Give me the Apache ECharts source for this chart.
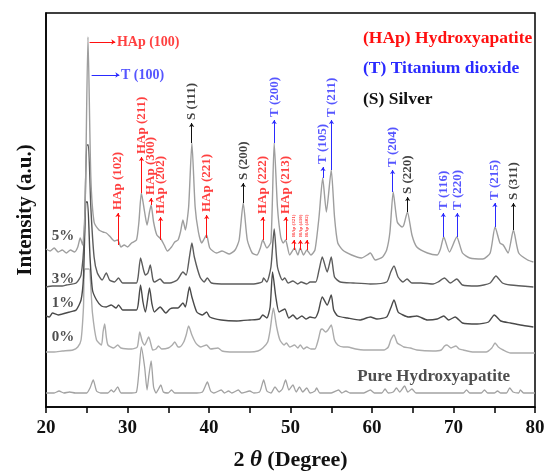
<!DOCTYPE html>
<html><head><meta charset="utf-8">
<script src="https://cdn.jsdelivr.net/npm/echarts@6/dist/echarts.min.js"></script>
<style>html,body{margin:0;padding:0;background:#fff}#c{width:547px;height:471px}</style>
</head><body><div id="c"></div>
<script>
// ---------- data (2θ in degrees, intensity in arbitrary units) ----------
const xTicks = [20, 30, 40, 50, 60, 70, 80];

const pureHAp = [[20.0,14],[21.0,14],[21.6,16],[22.2,14],[22.9,15],[23.6,14],[25.0,14],[25.4,19],[25.8,27],[26.2,16],[26.7,14],[27.6,14],[28.0,17],[28.3,15],[28.8,20],[29.2,14],[30.5,14],[31.1,15],[31.4,35],[31.7,60],[32.1,40],[32.4,17],[32.6,30],[32.9,46],[33.2,20],[33.5,14],[33.8,18],[34.1,22],[34.4,15],[35.0,14],[35.4,17],[35.8,14],[38.5,14],[39.2,15],[39.5,20],[39.8,25],[40.2,16],[40.6,14],[41.5,17],[41.9,14],[42.4,16],[42.8,14],[43.6,17],[44.0,14],[45.0,16],[45.5,14],[46.2,15],[46.4,19],[46.7,27],[47.1,16],[47.6,14],[48.1,20],[48.6,15],[49.0,18],[49.4,27],[49.8,17],[50.3,22],[50.7,15],[51.1,20],[51.5,15],[52.0,19],[52.4,14],[53.0,16],[53.2,19],[53.6,14],[55.0,14],[55.9,17],[56.3,14],[56.8,16],[57.3,14],[59.0,14],[59.8,17],[60.3,14],[61.2,14],[61.6,18],[62.0,14],[62.6,15],[63.0,19],[63.4,15],[64.0,21],[64.4,15],[64.9,18],[65.4,14],[67.0,14],[71.2,14],[71.6,17],[72.0,14],[73.4,14],[73.8,17],[74.2,14],[75.0,14],[75.4,16],[75.8,14],[76.5,14],[76.9,19],[77.3,15],[78.0,14],[78.2,17],[78.6,14],[80.0,14]];

const pct0 = [[20.0,55],[21.0,55],[22.0,56],[23.3,57],[23.9,60],[24.3,67],[24.6,100],[24.75,138],[25.3,138],[25.5,120],[25.7,94],[26.2,67],[26.8,62],[27.0,75],[27.2,83],[27.4,70],[27.6,62],[28.3,59],[28.8,62],[29.2,59],[30.5,58],[31.2,60],[31.5,75],[31.8,66],[32.1,62],[32.6,70],[32.9,62],[33.1,57],[33.5,58],[33.8,61],[34.2,58],[35.0,59],[35.5,62],[35.8,65],[36.2,60],[36.4,60],[36.9,65],[37.2,72],[37.5,81],[37.9,72],[38.3,65],[38.6,62],[39.0,60],[39.7,62],[40.2,58],[41.1,59],[41.6,56],[43.0,55],[45.0,55],[46.0,56],[46.6,59],[47.2,65],[47.5,77],[47.9,99],[48.3,80],[48.7,67],[49.2,62],[49.5,64],[49.9,60],[50.5,62],[50.9,59],[51.2,62],[51.6,58],[52.0,60],[52.5,58],[53.0,58],[53.4,67],[53.7,77],[53.9,78],[54.3,75],[54.6,77],[55.0,82],[55.4,67],[55.8,62],[56.5,60],[57.0,60],[58.0,58],[59.0,57],[60.5,57],[61.5,57],[62.0,60],[62.3,67],[62.7,72],[63.1,64],[63.5,62],[63.9,60],[64.7,59],[65.5,57],[67.5,56],[68.5,57],[68.9,61],[69.2,62],[69.7,59],[70.3,61],[70.7,58],[71.2,57],[72.5,55],[74.0,55],[74.7,59],[75.1,64],[75.5,60],[76.1,57],[77.0,54],[80.0,54]];

const pct1 = [[20.0,91],[20.4,90],[20.8,94],[21.5,92],[22.0,93],[22.9,95],[23.7,97],[24.3,107],[24.6,130],[24.9,205],[25.1,205],[25.4,150],[25.7,117],[26.2,107],[26.8,101],[27.4,100],[28.0,102],[28.6,99],[28.9,102],[29.4,97],[30.5,97],[31.1,97],[31.3,102],[31.6,122],[31.9,105],[32.2,95],[32.7,119],[33.0,103],[33.3,95],[34.0,100],[34.7,94],[35.2,98],[35.6,99],[36.2,99],[36.8,104],[37.1,100],[37.6,120],[37.9,110],[38.5,95],[39.2,92],[39.7,95],[40.1,90],[41.5,87],[43.4,86],[45.0,87],[46.2,88],[46.6,92],[47.1,89],[47.5,100],[47.8,135],[48.2,110],[48.6,95],[49.3,98],[49.8,89],[50.3,92],[50.8,88],[51.4,91],[51.9,88],[52.4,90],[53.0,89],[53.4,95],[53.9,110],[54.5,102],[55.0,112],[55.3,97],[55.8,91],[57.0,89],[58.5,87],[59.8,90],[60.6,88],[61.8,90],[62.3,99],[62.7,107],[63.2,95],[63.8,92],[64.5,90],[65.5,91],[66.8,87],[68.0,88],[68.8,91],[69.4,87],[70.2,90],[71.1,84],[72.9,83],[74.3,85],[75.0,92],[75.8,86],[77.0,84],[78.2,82],[79.8,80]];

const pct3 = [[20.0,120],[20.8,121],[22.0,121],[22.5,122],[23.7,124],[24.3,132],[24.7,170],[25.0,262],[25.2,262],[25.5,200],[25.9,150],[26.3,134],[26.9,127],[27.4,134],[27.8,127],[28.4,125],[28.9,129],[29.4,124],[30.5,124],[31.1,124],[31.3,130],[31.6,149],[32.0,136],[32.2,132],[32.5,134],[32.8,142],[33.1,128],[33.3,125],[34.0,128],[34.5,124],[35.2,124],[36.1,127],[36.8,135],[37.2,132],[37.6,150],[37.9,164],[38.2,150],[38.9,130],[39.4,125],[39.8,129],[40.3,124],[42.2,123],[43.0,123],[45.5,123],[46.5,125],[46.7,129],[47.1,125],[47.6,140],[48.0,178],[48.4,140],[49.0,127],[49.3,129],[49.7,124],[50.3,126],[50.9,123],[51.3,125],[52.0,123],[52.4,125],[53.1,125],[53.5,137],[53.9,150],[54.5,135],[55.0,150],[55.4,130],[56.1,125],[57.7,124],[59.8,123],[61.8,125],[62.3,135],[62.7,141],[63.2,130],[63.8,125],[64.3,128],[64.9,124],[66.0,124],[67.5,123],[68.1,125],[68.9,129],[69.6,124],[70.4,128],[71.1,122],[72.9,121],[74.5,124],[75.2,131],[76.0,124],[77.0,122],[79.8,120]];

const pct5 = [[20.0,158],[20.5,156],[21.0,159],[21.5,155],[22.0,157],[22.5,154],[23.0,157],[23.5,155],[23.9,160],[24.2,169],[24.5,162],[24.8,200],[25.15,370],[25.5,230],[25.9,185],[26.5,177],[27.0,175],[27.4,174],[27.8,171],[28.4,166],[28.8,167],[29.2,160],[29.6,162],[30.0,160],[30.5,164],[31.1,167],[31.4,185],[31.7,214],[32.1,195],[32.4,182],[32.7,195],[32.9,202],[33.2,185],[33.6,172],[34.1,168],[34.5,162],[34.9,156],[35.4,160],[35.8,165],[36.2,167],[36.5,175],[36.8,187],[37.1,177],[37.5,200],[37.9,264],[38.3,200],[38.7,175],[39.1,164],[39.4,168],[39.7,172],[40.1,159],[40.9,154],[41.6,156],[42.5,153],[43.2,157],[43.7,167],[44.2,204],[44.7,167],[45.3,154],[45.9,152],[46.3,159],[46.6,167],[47.1,159],[47.6,165],[48.0,264],[48.4,200],[48.8,170],[49.1,164],[49.4,167],[49.9,152],[50.5,159],[50.9,152],[51.2,159],[51.6,152],[52.0,157],[52.5,152],[53.0,157],[53.5,190],[53.95,229],[54.4,195],[55.0,237],[55.4,190],[55.8,164],[56.4,157],[57.5,152],[58.7,149],[59.4,152],[59.8,154],[60.4,147],[61.3,150],[61.8,157],[62.2,175],[62.6,215],[63.1,185],[63.7,180],[63.9,182],[64.35,195],[64.9,172],[65.5,160],[66.8,154],[68.0,152],[68.4,158],[68.8,170],[69.5,155],[70.4,170],[71.1,154],[72.0,149],[73.6,148],[74.5,154],[75.1,180],[75.7,164],[76.1,162],[76.7,154],[77.35,177],[78.0,154],[79.1,147],[79.8,145]];

// peak annotations: position, arrow start (peak), arrow tip, label, phase
const annX     = [28.83, 31.72, 32.89, 34.06, 37.87, 39.72, 44.2, 46.6, 48.0, 49.43, 50.42, 51.22, 52.02, 53.99, 55.03, 62.53, 64.38, 68.75, 70.47, 75.08, 77.36];
const annPeak  = [162, 214, 202, 167, 264, 169, 204, 167, 264, 167, 157, 157, 157, 229, 237, 215, 195, 170, 170, 180, 177];
const annTip   = [194, 250, 209, 190, 284, 192, 224, 190, 287, 190, 167, 167, 167, 240, 287, 237, 210, 194, 194, 204, 204];
const annLabel = ['HAp (102)','HAp (211)','HAp (300)','HAp (202)','S (111)','HAp (221)','S (200)','HAp (222)','T (200)','HAp (213)','HAp (321)','HAp (410)','HAp (402)','T (105)','T (211)','T (204)','S (220)','T (116)','T (220)','T (215)','S (311)'];
const annPhase = ['H','H','H','H','S','H','S','H','T','H','H','H','H','T','T','T','S','T','T','T','S'];
const annSmall = [0,0,0,0,0,0,0,0,0,0,1,1,1,0,0,0,0,0,0,0,0];

// horizontal annotations of the main peak
const hX0 = [25.35, 25.6], hX1 = [28.5, 29.0], hY = [365, 332], hLabel = ['HAp (100)', 'T (100)'], hPhase = ['H', 'T'];

// sample labels
const sampleLabel = ['5%', '3%', '1%', '0%', 'Pure Hydroxyapatite'];
const sampleX = [20.7, 20.7, 20.7, 20.7, 58.2];
const sampleY = [171, 128, 104, 70, 30];

const legendText = ['(HAp) Hydroxyapatite', '(T) Titanium dioxide', '(S) Silver'];

// ---------- chart ----------
const SERIF = "'Liberation Serif','DejaVu Serif',serif";
const phaseColor = {H: '#ff1010', T: '#2a2aff', S: '#111111'};

const arrowData = annX.map((x, i) => [
  {coord: [x, annPeak[i]], lineStyle: {color: phaseColor[annPhase[i]], width: 1, type: 'solid'}, itemStyle: {color: phaseColor[annPhase[i]]}},
  {coord: [x, annTip[i]], itemStyle: {color: phaseColor[annPhase[i]]}}
]).concat(hX0.map((x, i) => [
  {coord: [x, hY[i]], lineStyle: {color: phaseColor[hPhase[i]], width: 1, type: 'solid'}, itemStyle: {color: phaseColor[hPhase[i]]}},
  {coord: [hX1[i], hY[i]], itemStyle: {color: phaseColor[hPhase[i]]}}
]));

const annTextData = annX.map((x, i) => ({
  value: [x, annTip[i] + 3],
  label: {formatter: annLabel[i], color: phaseColor[annPhase[i]], fontSize: annSmall[i] ? 5 : 13}
}));
const hTextData = hX1.map((x, i) => ({
  value: [x + 0.2, hY[i]],
  label: {formatter: hLabel[i], color: phaseColor[hPhase[i]], fontSize: 14, rotate: 0}
}));
const sampleData = sampleLabel.map((s, i) => ({value: [sampleX[i], sampleY[i]], label: {formatter: s, fontSize: i === 4 ? 17 : 15}}));

function curve(name, data, color, w) {
  return {type: 'line', name, data, symbol: 'none', smooth: 0.2, lineStyle: {color, width: w}, z: 3, silent: true};
}

const chart = echarts.init(document.getElementById('c'), null, {renderer: 'canvas'});
chart.setOption({
  animation: false,
  backgroundColor: '#fff',
  grid: {left: 46, right: 12, top: 13, bottom: 64, show: true, borderColor: '#000', borderWidth: 1.5,
    backgroundColor: 'transparent', containLabel: false, outerBoundsMode: 'none'},
  xAxis: {
    type: 'value', min: 20, max: 80, interval: 10,
    axisLine: {show: true, lineStyle: {color: '#000', width: 1.5}},
    axisTick: {show: true, inside: false, length: 6, lineStyle: {color: '#000', width: 1.5}},
    minorTick: {show: true, splitNumber: 2, length: 6, lineStyle: {color: '#000', width: 1.5}},
    splitLine: {show: false},
    axisLabel: {color: '#111', fontFamily: SERIF, fontWeight: 'bold', fontSize: 19, margin: 12,
      formatter: v => xTicks.includes(v) ? String(v) : ''},
    name: '{a|2 }{b|θ}{a| (Degree)}', nameLocation: 'middle', nameGap: 42,
    nameTextStyle: {rich: {
      a: {fontFamily: SERIF, fontWeight: 'bold', fontSize: 22, color: '#111'},
      b: {fontFamily: SERIF, fontWeight: 'bold', fontStyle: 'italic', fontSize: 23, color: '#111'}
    }}
  },
  yAxis: {
    type: 'value', min: 0, max: 394,
    axisLine: {show: true, lineStyle: {color: '#000', width: 1.5}},
    axisTick: {show: false}, axisLabel: {show: false}, splitLine: {show: false},
    name: 'Intensity (a.u.)', nameLocation: 'middle', nameGap: 10,
    nameTextStyle: {fontFamily: SERIF, fontWeight: 'bold', fontSize: 21, color: '#111'}
  },
  series: [
    curve('Pure', pureHAp, '#a2a2a2', 1.3),
    curve('0%', pct0, '#acacac', 1.4),
    curve('1%', pct1, '#4a4a4a', 1.4),
    curve('3%', pct3, '#5c5c5c', 1.4),
    curve('5%', pct5, '#9e9e9e', 1.4),
    {
      type: 'scatter', data: [], silent: true, z: 4,
      markLine: {silent: true, animation: false, symbol: ['none', 'arrow'], symbolSize: 4,
        label: {show: false}, emphasis: {disabled: true}, data: arrowData}
    },
    {
      type: 'scatter', symbolSize: 0, silent: true, z: 5, data: annTextData,
      label: {show: true, position: 'inside', rotate: 90, align: 'left', verticalAlign: 'middle',
        fontFamily: SERIF, fontWeight: 'bold'}
    },
    {
      type: 'scatter', symbolSize: 0, silent: true, z: 5, data: hTextData,
      label: {show: true, position: 'inside', align: 'left', verticalAlign: 'middle',
        fontFamily: SERIF, fontWeight: 'bold'}
    },
    {
      type: 'scatter', symbolSize: 0, silent: true, z: 5, data: sampleData,
      label: {show: true, position: 'inside', align: 'left', verticalAlign: 'middle',
        fontFamily: SERIF, fontWeight: 'bold', color: '#222'}
    }
  ],
  graphic: legendText.map((t, i) => ({
    type: 'text', x: 363, y: [38, 68, 99][i], silent: true,
    style: {text: t, fill: [phaseColor.H, phaseColor.T, phaseColor.S][i], font: "bold 17.5px 'Liberation Serif', serif", verticalAlign: 'middle', align: 'left'}
  }))
});
</script>
</body></html>
